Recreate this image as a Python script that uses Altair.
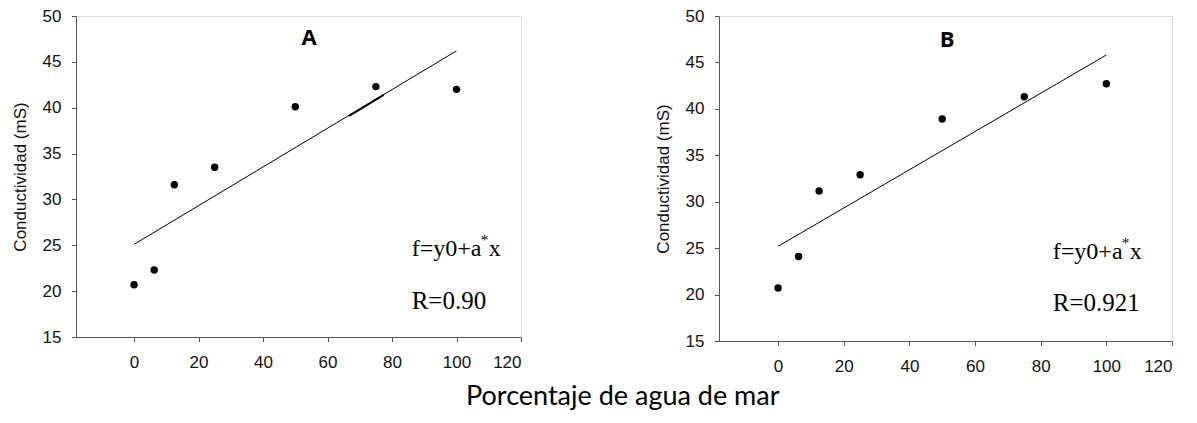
import altair as alt
import pandas as pd

pct = [0, 6.25, 12.5, 25, 50, 75, 100]
cond_a = [20.7, 22.3, 31.6, 33.5, 40.1, 42.3, 42.0]
cond_b = [20.7, 24.1, 31.15, 32.9, 38.9, 41.3, 42.7]

fit_x = [0, 100]
fit_a = [25.1, 46.2]
fit_b = [25.2, 45.8]

# short thicker stroke over line A
seg_x = [66.7, 77.4]
seg_a = [39.1, 41.4]

x_ticks = [0, 20, 40, 60, 80, 100, 120]
y_ticks = [15, 20, 25, 30, 35, 40, 45, 50]

panel_labels = ["A", "B"]
label_pos = [(54.3, 47.6), (51.5, 47.4)]
eq_text = ["f=y0+a", "*", "x"]
r_text = ["R=0.90", "R=0.921"]
ann_pos = [(86.1, 24.55, 18.9), (83.7, 24.6, 19.05)]

AXIS_COL = "#555555"


def panel(idx, cond, fit, w, h):
    pts = pd.DataFrame({"x": pct, "y": cond})
    line = pd.DataFrame({"x": fit_x, "y": fit})
    xs = alt.X("x:Q", scale=alt.Scale(domain=[-18, 120], nice=False, zero=False),
               axis=alt.Axis(values=x_ticks, title=None, grid=False, tickSize=4.5,
                             labelPadding=13, labelFontSize=17, labelFont="Liberation Sans",
                             labelColor="#111", domainColor=AXIS_COL, tickColor=AXIS_COL))
    ys = alt.Y("y:Q", scale=alt.Scale(domain=[15, 50], nice=False, zero=False),
               axis=alt.Axis(values=y_ticks, title="Conductividad (mS)", grid=False,
                             tickSize=4.5, labelPadding=10.5, labelFontSize=17,
                             labelFont="Liberation Sans", labelColor="#111",
                             titleFont="Liberation Sans", titleFontSize=17,
                             titleFontWeight="normal", titleColor="#111",
                             titlePadding=13,
                             domainColor=AXIS_COL, tickColor=AXIS_COL))
    layers = [
        alt.Chart(line).mark_line(color="black", strokeWidth=1).encode(x=xs, y=ys),
        alt.Chart(pts).mark_circle(color="black", opacity=1, size=55).encode(x="x:Q", y="y:Q"),
    ]
    if idx == 0:
        seg = pd.DataFrame({"x": seg_x, "y": seg_a})
        layers.append(alt.Chart(seg).mark_line(color="black", strokeWidth=2).encode(x="x:Q", y="y:Q"))
    lx, ly = label_pos[idx]
    layers.append(alt.Chart(pd.DataFrame({"x": [lx], "y": [ly], "t": [panel_labels[idx]]}))
                  .mark_text(font="Open Sans", fontSize=22, fontWeight="bold", color="black")
                  .encode(x="x:Q", y="y:Q", text="t:N"))
    ax, ey, ry = ann_pos[idx]
    ann = pd.DataFrame({"x": [ax], "y": [ey], "t": [eq_text[0]]})
    layers.append(alt.Chart(ann).mark_text(font="Liberation Serif", fontSize=24, align="left",
                                           baseline="middle", color="black")
                  .encode(x="x:Q", y="y:Q", text="t:N"))
    layers.append(alt.Chart(ann.assign(t=eq_text[1])).mark_text(font="Liberation Serif", fontSize=15,
                                           align="left", baseline="middle", dx=69, dy=-9, color="black")
                  .encode(x="x:Q", y="y:Q", text="t:N"))
    layers.append(alt.Chart(ann.assign(t=eq_text[2])).mark_text(font="Liberation Serif", fontSize=24,
                                           align="left", baseline="middle", dx=77, color="black")
                  .encode(x="x:Q", y="y:Q", text="t:N"))
    rd = pd.DataFrame({"x": [ax], "y": [ry], "t": [r_text[idx]]})
    layers.append(alt.Chart(rd).mark_text(font="Liberation Serif", fontSize=25, align="left",
                                          baseline="middle", color="black")
                  .encode(x="x:Q", y="y:Q", text="t:N"))
    return alt.layer(*layers).properties(width=w, height=h)


chart = alt.hconcat(
    panel(0, cond_a, fit_a, 445, 321),
    panel(1, cond_b, fit_b, 453, 325),
    spacing=131,
).properties(
    title=alt.TitleParams("Porcentaje de agua de mar", orient="bottom", anchor="middle",
                          font="Lato", fontSize=27, fontWeight="normal", color="black",
                          offset=9, dx=31),
    padding={"top": -2, "left": 2, "right": 2, "bottom": 2},
).configure_view(stroke=None).configure(background="white")

chart.save("out.html", embed_options={"renderer": "svg", "actions": False})
